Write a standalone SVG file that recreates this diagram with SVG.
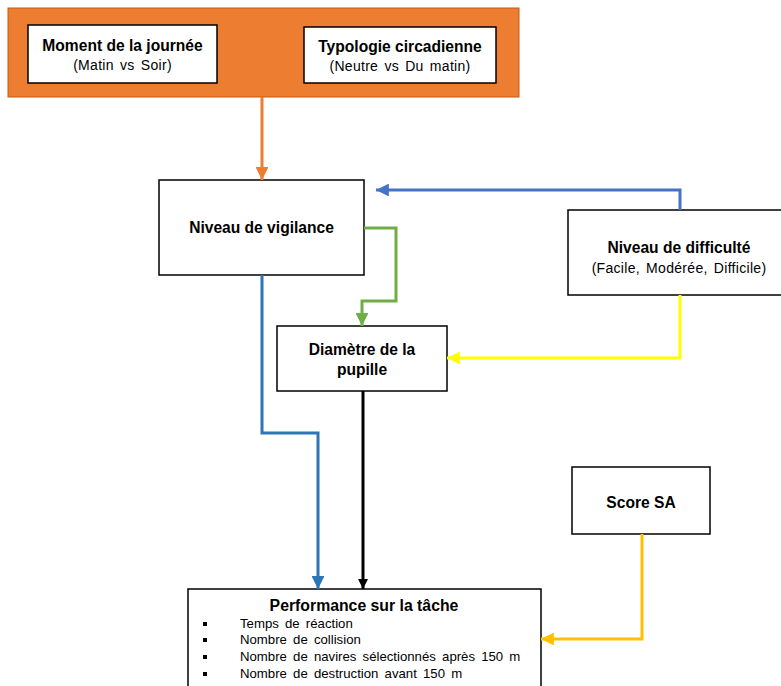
<svg xmlns="http://www.w3.org/2000/svg" width="781" height="686" viewBox="0 0 781 686">
<style>
.box{fill:#fff;stroke:#000;stroke-width:1.5}
.b{font-family:"Liberation Sans",Arial,sans-serif;font-weight:bold;font-size:15.6px;fill:#000;text-anchor:middle}
.r{font-family:"Liberation Sans",Arial,sans-serif;font-size:14px;letter-spacing:0.3px;word-spacing:2px;fill:#000;text-anchor:middle}
.li{font-family:"Liberation Sans",Arial,sans-serif;font-size:13.2px;word-spacing:2.5px;fill:#000}
.c{fill:none;stroke-width:3}
</style>
<defs>
<marker id="mO" viewBox="0 0 10 10" refX="10" refY="5" markerWidth="4.3" markerHeight="4.3" orient="auto" markerUnits="strokeWidth"><path d="M0,0 L10,5 L0,10 z" fill="#ED7D31"/></marker>
<marker id="mB" viewBox="0 0 10 10" refX="10" refY="5" markerWidth="4.3" markerHeight="4.3" orient="auto" markerUnits="strokeWidth"><path d="M0,0 L10,5 L0,10 z" fill="#4472C4"/></marker>
<marker id="mB2" viewBox="0 0 10 10" refX="10" refY="5" markerWidth="4.3" markerHeight="4.3" orient="auto" markerUnits="strokeWidth"><path d="M0,0 L10,5 L0,10 z" fill="#2E75B6"/></marker>
<marker id="mG" viewBox="0 0 10 10" refX="10" refY="5" markerWidth="4.3" markerHeight="4.3" orient="auto" markerUnits="strokeWidth"><path d="M0,0 L10,5 L0,10 z" fill="#70AD47"/></marker>
<marker id="mY" viewBox="0 0 10 10" refX="10" refY="5" markerWidth="4.3" markerHeight="4.3" orient="auto" markerUnits="strokeWidth"><path d="M0,0 L10,5 L0,10 z" fill="#FFFF00"/></marker>
<marker id="mK" viewBox="0 0 10 10" refX="10" refY="5" markerWidth="3.5" markerHeight="3.5" orient="auto" markerUnits="strokeWidth"><path d="M0,0 L10,5 L0,10 z" fill="#000"/></marker>
<marker id="mA" viewBox="0 0 10 10" refX="10" refY="5" markerWidth="4.3" markerHeight="4.3" orient="auto" markerUnits="strokeWidth"><path d="M0,0 L10,5 L0,10 z" fill="#FFC000"/></marker>
</defs>
<g id="facteurs">
<rect x="8" y="8" width="511" height="89" fill="#ED7D31" stroke="#C55A11" stroke-width="1"/>
</g>
<g id="moment">
<rect class="box" x="28" y="25" width="189" height="58"/>
<text class="b" x="122.5" y="51">Moment de la journée</text>
<text class="r" x="122.5" y="70">(Matin vs Soir)</text>
</g>
<g id="typologie">
<rect class="box" x="304" y="27" width="192" height="56"/>
<text class="b" x="400" y="52">Typologie circadienne</text>
<text class="r" x="400" y="71">(Neutre vs Du matin)</text>
</g>
<g id="vigilance">
<rect class="box" x="159" y="180" width="205" height="95"/>
<text class="b" x="261.5" y="233">Niveau de vigilance</text>
</g>
<g id="difficulte">
<rect class="box" x="568" y="210" width="214" height="85"/>
<text class="b" x="679" y="253">Niveau de difficulté</text>
<text class="r" x="679" y="273">(Facile, Modérée, Difficile)</text>
</g>
<g id="pupille">
<rect class="box" x="277" y="326" width="170" height="65"/>
<text class="b" x="362" y="355">Diamètre de la</text>
<text class="b" x="362" y="375">pupille</text>
</g>
<g id="score">
<rect class="box" x="572" y="467" width="138" height="67"/>
<text class="b" x="641" y="508">Score SA</text>
</g>
<g id="performance">
<rect class="box" x="188" y="589" width="353" height="110"/>
<text class="b" x="364" y="611" style="font-size:15.8px">Performance sur la tâche</text>
<g class="li">
<rect x="203" y="622" width="4" height="4"/><text x="240" y="628">Temps de réaction</text>
<rect x="203" y="638" width="4" height="4"/><text x="240" y="644">Nombre de collision</text>
<rect x="203" y="655" width="4" height="4"/><text x="240" y="661">Nombre de navires sélectionnés après 150 m</text>
<rect x="203" y="672" width="4" height="4"/><text x="240" y="678">Nombre de destruction avant 150 m</text>
</g>
</g>
<g id="connectors">
<path class="c" d="M262,97 V180" stroke="#ED7D31" marker-end="url(#mO)"/>
<path class="c" d="M680,210 V190 H376" stroke="#4472C4" marker-end="url(#mB)"/>
<path class="c" d="M364,228 H396 V301 H362 V326" stroke="#70AD47" marker-end="url(#mG)"/>
<path class="c" d="M680,295 V358 H447" stroke="#FFFF00" marker-end="url(#mY)"/>
<path class="c" d="M262,275 V433 H318 V589" stroke="#2E75B6" marker-end="url(#mB2)"/>
<path class="c" d="M363,391 V589" stroke="#000" stroke-width="4" marker-end="url(#mK)"/>
<path class="c" d="M642,534 V639 H541" stroke="#FFC000" marker-end="url(#mA)"/>
</g>
</svg>
